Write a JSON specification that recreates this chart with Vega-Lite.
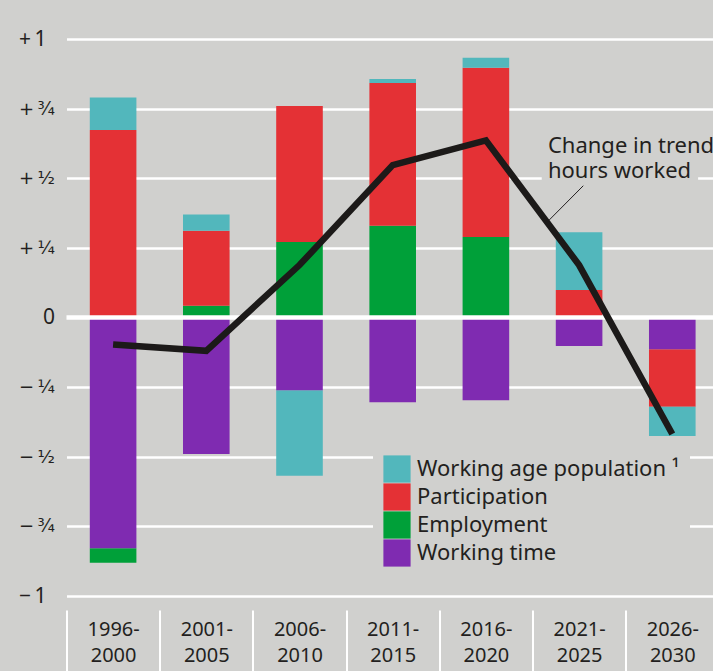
{
  "$schema": "https://vega.github.io/schema/vega-lite/v6.json",
  "autosize": {"type": "none"},
  "padding": {"left": 66.5, "top": 0, "right": 0, "bottom": 61},
  "width": 652.4,
  "height": 610,
  "background": "#d0d0ce",
  "config": {
    "view": {"stroke": null},
    "font": "Noto Sans",
    "axis": {"labelFont": "Noto Sans", "labelColor": "#231f20"},
    "legend": {"labelFont": "Noto Sans", "labelColor": "#231f20"}
  },
  "datasets": {
    "bars": [
      {"period": "1996-2000", "component": "Employment", "value": -0.052, "stack": 1},
      {"period": "1996-2000", "component": "Participation", "value": 0.673, "stack": 2},
      {"period": "1996-2000", "component": "Working age population ¹", "value": 0.117, "stack": 3},
      {"period": "1996-2000", "component": "Working time", "value": -0.829, "stack": 0},
      {"period": "2001-2005", "component": "Employment", "value": 0.042, "stack": 1},
      {"period": "2001-2005", "component": "Participation", "value": 0.269, "stack": 2},
      {"period": "2001-2005", "component": "Working age population ¹", "value": 0.059, "stack": 3},
      {"period": "2001-2005", "component": "Working time", "value": -0.491, "stack": 0},
      {"period": "2006-2010", "component": "Employment", "value": 0.271, "stack": 1},
      {"period": "2006-2010", "component": "Participation", "value": 0.488, "stack": 2},
      {"period": "2006-2010", "component": "Working age population ¹", "value": -0.307, "stack": 3},
      {"period": "2006-2010", "component": "Working time", "value": -0.262, "stack": 0},
      {"period": "2011-2015", "component": "Employment", "value": 0.329, "stack": 1},
      {"period": "2011-2015", "component": "Participation", "value": 0.513, "stack": 2},
      {"period": "2011-2015", "component": "Working age population ¹", "value": 0.014, "stack": 3},
      {"period": "2011-2015", "component": "Working time", "value": -0.305, "stack": 0},
      {"period": "2016-2020", "component": "Employment", "value": 0.289, "stack": 1},
      {"period": "2016-2020", "component": "Participation", "value": 0.608, "stack": 2},
      {"period": "2016-2020", "component": "Working age population ¹", "value": 0.036, "stack": 3},
      {"period": "2016-2020", "component": "Working time", "value": -0.298, "stack": 0},
      {"period": "2021-2025", "component": "Participation", "value": 0.098, "stack": 2},
      {"period": "2021-2025", "component": "Working age population ¹", "value": 0.208, "stack": 3},
      {"period": "2021-2025", "component": "Working time", "value": -0.103, "stack": 0},
      {"period": "2026-2030", "component": "Participation", "value": -0.207, "stack": 2},
      {"period": "2026-2030", "component": "Working age population ¹", "value": -0.105, "stack": 3},
      {"period": "2026-2030", "component": "Working time", "value": -0.114, "stack": 0}
    ],
    "line": [
      {"period": "1996-2000", "hours": -0.097},
      {"period": "2001-2005", "hours": -0.120},
      {"period": "2006-2010", "hours": 0.188},
      {"period": "2011-2015", "hours": 0.547},
      {"period": "2016-2020", "hours": 0.636},
      {"period": "2021-2025", "hours": 0.188},
      {"period": "2026-2030", "hours": -0.419}
    ],
    "fractionLabels": [
      {"tick": 0.75, "text": "+\u2009¾"},
      {"tick": 0.5, "text": "+\u2009½"},
      {"tick": 0.25, "text": "+\u2009¼"},
      {"tick": -0.25, "text": "\u2212\u2009¼"},
      {"tick": -0.5, "text": "\u2212\u2009½"},
      {"tick": -0.75, "text": "\u2212\u2009¾"}
    ],
    "zeroLabel": [
      {"tick": 0, "text": "0"}
    ],
    "unitLabels": [
      {"tick": 1, "text": "+\u20091"},
      {"tick": -1, "text": "\u2212\u20091"}
    ]
  },
  "layer": [
    {
      "layer": [
        {
          "data": {"name": "bars"},
          "mark": {"type": "bar", "width": {"band": 0.5}},
          "encoding": {
            "x": {
              "field": "period",
              "type": "nominal",
              "sort": null,
              "scale": {"paddingInner": 0, "paddingOuter": 0},
              "axis": {
                "title": null,
                "orient": "bottom",
                "domain": false,
                "ticks": true,
                "tickBand": "extent",
                "tickColor": "white",
                "tickWidth": 2,
                "tickSize": 62,
                "labelPadding": -52,
                "labelAngle": 0,
                "labelFontSize": 20,
                "labelLineHeight": 26,
                "labelBaseline": "top",
                "labelExpr": "[slice(datum.label, 0, 5), slice(datum.label, 5)]"
              }
            },
            "y": {
              "field": "value",
              "type": "quantitative",
              "stack": "zero",
              "scale": {"domain": [-1.051, 1.1401], "nice": false, "zero": false},
              "axis": {
                "title": null,
                "domain": false,
                "ticks": false,
                "labels": false,
                "values": [-1, -0.75, -0.5, -0.25, 0, 0.25, 0.5, 0.75, 1],
                "grid": true,
                "gridColor": "white",
                "gridWidth": 2.5,
                "gridOpacity": 1
              }
            },
            "color": {
              "field": "component",
              "type": "nominal",
              "scale": {
                "domain": ["Working age population ¹", "Participation", "Employment", "Working time"],
                "range": ["#52b7bc", "#e43135", "#00a039", "#7f2bb1"]
              },
              "legend": {
                "title": null,
                "orient": "none",
                "legendX": 306.5,
                "legendY": 445,
                "fillColor": "#d0d0ce",
                "padding": 10,
                "symbolType": "square",
                "symbolSize": 740,
                "symbolStrokeWidth": 0,
                "symbolOpacity": 1,
                "rowPadding": 0,
                "labelFontSize": 22,
                "labelOffset": 6,
                "labelLimit": 400
              }
            },
            "order": {"field": "stack", "type": "quantitative"}
          }
        },
        {
          "data": {"values": [{}]},
          "mark": {"type": "rule", "color": "white", "strokeWidth": 4.5},
          "encoding": {"y": {"datum": 0, "type": "quantitative"}}
        },
        {
          "data": {"name": "line"},
          "mark": {"type": "line", "color": "#1c1a19", "strokeWidth": 6.5, "strokeJoin": "miter", "strokeCap": "butt"},
          "encoding": {
            "x": {"field": "period", "type": "nominal", "sort": null},
            "y": {"field": "hours", "type": "quantitative"}
          }
        }
      ]
    },
    {
      "layer": [
        {
          "data": {"values": [{"x0": 5.099, "x1": 6.777, "y0": 0.488, "y1": 0.512}]},
          "mark": {"type": "rect", "color": "#d0d0ce"},
          "encoding": {
            "x": {"field": "x0", "type": "quantitative", "scale": {"domain": [0, 7], "nice": false, "zero": false}, "axis": null},
            "x2": {"field": "x1"},
            "y": {"field": "y0", "type": "quantitative"},
            "y2": {"field": "y1"}
          }
        },
        {
          "data": {"values": [{"x0": 5.545, "y0": 0.473, "x1": 5.18, "y1": 0.35}]},
          "mark": {"type": "rule", "color": "#231f20", "strokeWidth": 1},
          "encoding": {
            "x": {"field": "x0", "type": "quantitative", "scale": {"domain": [0, 7], "nice": false, "zero": false}, "axis": null},
            "x2": {"field": "x1"},
            "y": {"field": "y0", "type": "quantitative"},
            "y2": {"field": "y1"}
          }
        },
        {
          "data": {"values": [
            {"bx": 5.166, "by": 0.592, "label": "Change in trend"},
            {"bx": 5.166, "by": 0.502, "label": "hours worked"}
          ]},
          "mark": {"type": "text", "align": "left", "baseline": "alphabetic", "fontSize": 22, "font": "Noto Sans", "color": "#231f20"},
          "encoding": {
            "x": {"field": "bx", "type": "quantitative", "scale": {"domain": [0, 7], "nice": false, "zero": false}, "axis": null},
            "y": {"field": "by", "type": "quantitative"},
            "text": {"field": "label"}
          }
        },
        {
          "data": {"name": "fractionLabels"},
          "mark": {"type": "text", "align": "right", "baseline": "middle", "dy": 1, "fontSize": 18, "font": "DejaVu Sans", "color": "#231f20"},
          "encoding": {
            "x": {"datum": -0.1234, "type": "quantitative", "scale": {"domain": [0, 7], "nice": false, "zero": false}, "axis": null},
            "y": {"field": "tick", "type": "quantitative"},
            "text": {"field": "text"}
          }
        },
        {
          "data": {"name": "zeroLabel"},
          "mark": {"type": "text", "align": "right", "baseline": "middle", "dy": 1, "fontSize": 21, "font": "Noto Sans", "color": "#231f20"},
          "encoding": {
            "x": {"datum": -0.1234, "type": "quantitative", "scale": {"domain": [0, 7], "nice": false, "zero": false}, "axis": null},
            "y": {"field": "tick", "type": "quantitative"},
            "text": {"field": "text"}
          }
        },
        {
          "data": {"name": "unitLabels"},
          "mark": {"type": "text", "align": "left", "baseline": "middle", "dy": 1, "fontSize": 21, "font": "Noto Sans", "color": "#231f20"},
          "encoding": {
            "x": {"datum": -0.5097, "type": "quantitative", "scale": {"domain": [0, 7], "nice": false, "zero": false}, "axis": null},
            "y": {"field": "tick", "type": "quantitative"},
            "text": {"field": "text"}
          }
        }
      ]
    }
  ],
  "resolve": {"scale": {"x": "independent"}}
}
